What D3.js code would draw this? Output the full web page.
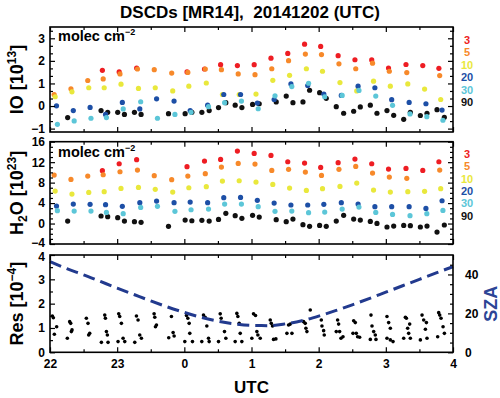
<!DOCTYPE html>
<html>
<head>
<meta charset="utf-8">
<script src="https://cdn.jsdelivr.net/npm/d3@7"></script>
<style>
  body { margin: 0; background: #fff; }
  svg text { font-family: "Liberation Sans", Arial, Helvetica, sans-serif; font-weight: bold; }
</style>
</head>
<body>
<svg id="chart" width="500" height="398"></svg>
<script>
// elevation angles of the MAX-DOAS scan and their colours
const angles = ["3", "5", "10", "20", "30", "90"];
const angleColors = ["#ee1d23", "#f7892a", "#e9e83c", "#1d4fa6", "#5cc6d8", "#111111"];
// time offset (h) of each low angle inside one scan cycle
const angleTimeOffset = [0, 0.012, 0.027, 0.047, 0.06];

// start time of each scan cycle (decimal hours, 24 = 0 UTC next day)
const cycleTimes = [22.05, 22.30, 22.55, 22.78, 23.03, 23.29, 23.54, 23.80, 24.04, 24.30, 24.54, 24.79,
  25.04, 25.29, 25.54, 25.79, 26.03, 26.29, 26.54, 26.79, 27.04, 27.30, 27.55, 27.79];

// IO dSCDs [1e13 molec cm-2]
const io3  = [null, null, null, 1.58, 1.51, 1.68, null, null, 1.51, 1.64, 1.83, 1.79, 1.83, 2.12, 2.33, 2.74, 2.64, 2.23, 2.05, 2.04, 1.68, 1.84, 1.79, 1.67];
const io5  = [0.51, 0.76, 1.13, 1.20, 1.42, 1.64, 1.61, 1.46, 1.49, 1.64, 1.61, 1.42, 1.39, 1.65, 2.01, 2.30, 2.28, 1.87, 1.65, 1.90, 1.54, 1.48, null, 1.35];
const io10 = [0.41, 0.63, 0.81, 0.81, 0.97, 0.78, 0.81, 0.67, 0.88, 1.02, 0.51, 0.51, 0.53, 1.14, 1.36, 1.65, 1.54, 1.04, 0.67, 1.10, 0.88, 0.98, 0.75, 0.29];
const io20 = [0.01, -0.20, -0.06, -0.37, 0.16, -0.13, 0.32, 0.22, -0.20, 0.04, 0.51, 0.51, 0.13, 0.29, 0.98, 0.91, 0.53, 0.47, 0.88, 0.81, 0.28, 0.16, 0.10, -0.18];
const io30 = [-0.81, -0.66, -0.54, -0.51, -0.13, 0.19, -0.54, -0.37, -0.28, -0.03, 0.15, 0.22, -0.12, 0.45, 0.86, 1.01, 0.41, 0.47, 0.69, 0.44, 0.03, -0.35, -0.47, -0.63];

// H2O dSCDs [1e23 molec cm-2]
const h2o3  = [null, null, null, 10.33, 11.69, 12.48, null, null, 11.11, 12.21, 12.54, 14.17, 13.71, 13.32, 12.08, 11.82, 10.98, 11.89, 12.61, 11.69, 10.65, 10.78, 10.39, 12.08];
const h2o5  = [9.48, 8.63, 9.28, 9.54, 10.13, 10.46, 9.35, 8.57, 9.28, 9.74, 11.04, 11.76, 11.63, 10.39, 10.59, 10.06, 9.41, 10.59, 11.17, 9.87, 9.09, 8.83, null, 10.46];
const h2o10 = [6.35, 5.77, 6.09, 6.22, 6.87, 7.07, 6.68, 6.16, 7.00, 7.20, 8.31, 8.37, 8.11, 7.65, 6.94, 6.48, 6.81, 7.26, 7.92, 6.55, 6.16, 6.22, 6.29, 6.81];
const h2o20 = [3.42, 3.81, 3.75, 3.68, 3.36, 4.07, 4.40, 4.07, 4.20, 4.07, 5.05, 5.11, 4.53, 4.01, 3.62, 3.62, 3.75, 4.07, 3.81, 3.29, 3.29, 3.29, 2.96, 4.46];
const h2o30 = [2.51, 2.44, 2.44, 2.18, 1.92, 3.16, 3.36, 2.38, 2.70, 2.83, 3.81, 3.81, 3.29, 2.38, 2.44, 2.12, 2.25, 2.83, 3.22, 2.18, 1.79, 1.53, 1.92, 2.57];

// zenith (90 deg) measurements, before and after the scans
const zenithTimes = [22.263, 22.760, 22.859, 23.008, 23.108, 23.257, 23.356, 23.764, 24.012, 24.112, 24.261, 24.370, 24.509,
  24.618, 24.757, 24.857, 25.016, 25.115, 25.368, 25.517, 25.617, 25.766, 25.865, 26.014, 26.113, 26.262,
  26.372, 26.521, 26.620, 26.769, 26.868, 27.017, 27.117, 27.266, 27.365, 27.514, 27.613, 27.762, 27.871];
const io90 = [-0.51, -0.20, -0.28, -0.28, -0.37, -0.28, -0.37, -0.34, -0.34, -0.28, -0.28, -0.20, -0.07,
  0.15, 0.04, -0.07, 0.07, 0.10, 0.18, 0.44, 0.15, 0.18, 0.70, 0.59, 0.34, -0.03,
  -0.32, -0.23, -0.04, 0.04, -0.32, -0.20, -0.41, -0.59, -0.28, -0.42, -0.32, -0.16, -0.50];
const h2o90 = [0.49, 1.47, 1.34, 1.14, 0.49, 0.36, 0.23, -0.55, 0.68, 0.55, 0.62, 0.49, 0.81,
  1.99, 1.53, 1.01, 1.60, 1.27, 0.75, 0.36, 0.88, -0.23, -0.55, -0.36, -0.55, 0.49,
  1.60, 0.88, 0.68, 0.42, 0.03, -0.68, -0.49, -0.36, -0.42, -0.68, -0.49, -1.66, -0.29];

// fit residuals [1e-4]: [time, value]
const residuals = [
  [22.035,1.49],[22.050,1.42],[22.065,0.74],[22.099,1.05],
  [22.258,0.58],[22.293,1.26],[22.308,1.19],[22.318,0.85],[22.328,0.92],
  [22.541,1.40],[22.566,1.19],[22.576,0.71],[22.591,0.78],
  [22.765,0.41],[22.815,1.53],[22.825,1.40],[22.840,0.85],[22.854,0.71],[22.864,0.41],
  [23.013,0.44],[23.023,1.58],[23.038,1.47],[23.063,1.19],[23.088,0.58],[23.113,0.44],
  [23.262,0.41],[23.287,1.49],[23.311,1.33],[23.336,0.71],[23.361,0.58],
  [23.550,1.58],[23.560,1.44],[23.570,1.05],[23.585,1.12],
  [23.768,0.60],[23.808,1.47],[23.833,0.81],[23.848,0.67],
  [24.007,0.44],[24.032,1.51],[24.052,1.40],[24.072,1.19],[24.081,0.78],[24.121,0.44],
  [24.260,0.44],[24.285,1.53],[24.310,1.44],[24.335,1.08],[24.360,0.58],[24.370,0.44],
  [24.509,0.44],[24.534,1.58],[24.548,1.40],[24.598,0.85],[24.618,0.58],
  [24.757,0.44],[24.782,1.60],[24.797,1.47],[24.817,1.19],[24.832,0.78],[24.856,0.44],
  [25.005,0.58],[25.030,1.58],[25.060,1.51],[25.080,0.85],[25.095,0.71],[25.130,0.58],
  [25.279,1.33],[25.294,1.19],[25.313,1.08],[25.328,0.53],[25.363,0.55],
  [25.527,0.78],[25.552,1.12],[25.577,1.16],[25.602,0.78],
  [25.775,1.26],[25.800,1.19],[25.810,0.99],[25.825,0.85],[25.875,1.74],
  [26.039,1.33],[26.049,1.08],[26.074,0.89],[26.083,0.71],
  [26.262,0.85],[26.282,1.33],[26.297,1.16],[26.312,0.85],[26.332,0.58],[26.362,0.64],
  [26.511,0.78],[26.521,1.30],[26.545,1.22],[26.560,0.78],[26.580,0.64],[26.610,0.62],
  [26.769,0.53],[26.779,1.53],[26.794,1.08],[26.819,0.85],[26.843,0.71],[26.853,0.53],
  [27.017,0.58],[27.017,1.47],[27.042,1.22],[27.067,0.99],[27.067,0.51],[27.107,0.44],
  [27.266,0.58],[27.291,1.44],[27.306,1.40],[27.325,0.99],[27.340,0.78],[27.355,1.16],[27.365,0.58],
  [27.514,0.51],[27.539,1.53],[27.564,1.33],[27.589,0.95],[27.604,1.22],[27.613,0.58],
  [27.772,0.64],[27.787,1.63],[27.802,1.53],[27.822,1.40],[27.852,1.05],[27.872,0.78]
];

// solar zenith angle
const szaTimes = [22.00, 22.25, 22.50, 22.75, 23.00, 23.25, 23.50, 23.75, 24.00, 24.25, 24.50, 24.75,
  25.00, 25.25, 25.50, 25.75, 26.00, 26.25, 26.50, 26.75, 27.00, 27.25, 27.50, 27.75, 28.00];
const szaValues = [46.6, 43.0, 39.8, 36.4, 33.0, 29.7, 26.4, 23.3, 20.5, 18.0, 16.0, 14.6,
  13.8, 13.7, 14.6, 16.2, 18.6, 21.4, 24.4, 27.6, 30.9, 34.2, 37.5, 40.8, 44.0];

const hourTicks = [22, 23, 24, 25, 26, 27, 28];
const halfHourTicks = [22.5, 23.5, 24.5, 25.5, 26.5, 27.5];

// ---------------------------------------------------------------
const svg = d3.select("#chart");
const FONT = '"Liberation Sans", Arial, Helvetica, sans-serif';
const left = 50, right = 453;

const x = d3.scaleLinear().domain([22, 28]).range([left, right]);
const fmt = d3.format("d");

// draw one set of ticks (inward), optionally with labels
function ticks(maker, scale, values, size, transform, withLabels, padding) {
  const gen = maker(scale).tickValues(values).tickSize(-size).tickPadding(padding || 5)
    .tickFormat(withLabels ? (withLabels === true ? fmt : withLabels) : () => "");
  const g = svg.append("g").attr("transform", transform).call(gen);
  g.select(".domain").remove();
  g.attr("font-family", FONT).attr("font-size", 12).attr("font-weight", "bold");
  g.selectAll("line").attr("stroke", "#000").attr("stroke-width", 1.2);
  g.selectAll("text").attr("fill", "#000");
  return g;
}

function panelFrame(top, bottom, y, majors, minors, xLabels) {
  // x ticks top & bottom
  ticks(d3.axisTop, x, hourTicks, 5, `translate(0,${top})`);
  ticks(d3.axisTop, x, halfHourTicks, 3, `translate(0,${top})`);
  ticks(d3.axisBottom, x, hourTicks, 5, `translate(0,${bottom})`, xLabels ? (d => d % 24) : false, 7);
  ticks(d3.axisBottom, x, halfHourTicks, 3, `translate(0,${bottom})`);
  // y ticks left
  const yAxis = ticks(d3.axisLeft, y, majors, 5, `translate(${left},0)`, true, 5);
  ticks(d3.axisLeft, y, minors, 3, `translate(${left},0)`);
  svg.append("rect")
    .attr("x", left).attr("y", top)
    .attr("width", right - left).attr("height", bottom - top)
    .attr("fill", "none").attr("stroke", "#000").attr("stroke-width", 1.6);
  return yAxis;
}

function yTitle(cx, cy, parts, color) {
  const t = svg.append("text")
    .attr("transform", `translate(${cx},${cy}) rotate(-90)`)
    .attr("text-anchor", "middle")
    .attr("font-size", 18)
    .attr("fill", color || "#000");
  parts.forEach(p => {
    const s = t.append("tspan").text(p[0]);
    if (p[1] === "sup") s.attr("font-size", 12).attr("dy", -7);
    else if (p[1] === "sub") s.attr("font-size", 12).attr("dy", 4);
    else if (p[1] === "back-sup") s.attr("dy", 7);
    else if (p[1] === "back-sub") s.attr("dy", -4);
  });
}

function unitsLabel(top) {
  const t = svg.append("text").attr("x", 58).attr("y", top + 14).attr("font-size", 14.5).attr("fill", "#000");
  t.append("tspan").text("molec cm");
  t.append("tspan").text("\u22122").attr("font-size", 9).attr("dy", -6);
}

function legend(top) {
  svg.append("g").selectAll("text")
    .data(angles)
    .join("text")
    .attr("x", 467)
    .attr("y", (d, i) => top + 17 + i * 12.4)
    .attr("text-anchor", "middle")
    .attr("font-size", 11)
    .attr("fill", (d, i) => angleColors[i])
    .text(d => d);
}

function scanDots(y, lowSeries, zenithSeries) {
  const g = svg.append("g");
  g.selectAll(".zen")
    .data(zenithTimes.map((t, i) => [t, zenithSeries[i]]).filter(d => d[1] != null))
    .join("circle")
    .attr("cx", d => x(d[0])).attr("cy", d => y(d[1]))
    .attr("r", 2.6).attr("fill", angleColors[5]);
  lowSeries.forEach((series, k) => {
    g.append("g").selectAll("circle")
      .data(cycleTimes.map((t, i) => [t + angleTimeOffset[k], series[i]]).filter(d => d[1] != null))
      .join("circle")
      .attr("cx", d => x(d[0])).attr("cy", d => y(d[1]))
      .attr("r", 2.6).attr("fill", angleColors[k]);
  });
}

// title (two spaces after the comma)
svg.append("text")
  .attr("x", 250).attr("y", 18)
  .attr("text-anchor", "middle")
  .attr("font-size", 17)
  .text("DSCDs [MR14], \u00a020141202 (UTC)");

// ---- panel 1: IO
const p1 = { top: 27, bottom: 132 };
const yIO = d3.scaleLinear().domain([-1.15, 3.5]).range([p1.bottom, p1.top]);
const ioMinors = d3.range(-3, 11).filter(i => i % 3 !== 0).map(i => i / 3);
scanDots(yIO, [io3, io5, io10, io20, io30], io90);
panelFrame(p1.top, p1.bottom, yIO, [-1, 0, 1, 2, 3], ioMinors, false);
ticks(d3.axisRight, yIO, [-1, 0, 1, 2, 3], 5, `translate(${right},0)`);
ticks(d3.axisRight, yIO, ioMinors, 3, `translate(${right},0)`);
unitsLabel(p1.top);
legend(p1.top);
yTitle(23, (p1.top + p1.bottom) / 2, [["IO [10"], ["13", "sup"], ["]", "back-sup"]]);

// ---- panel 2: H2O
const p2 = { top: 141.7, bottom: 244 };
const yH2O = d3.scaleLinear().domain([-4, 16]).range([p2.bottom, p2.top]);
const h2oMinors = d3.range(-4, 17).filter(v => v % 4 !== 0);
scanDots(yH2O, [h2o3, h2o5, h2o10, h2o20, h2o30], h2o90);
const h2oAxis = panelFrame(p2.top, p2.bottom, yH2O, [-4, 0, 4, 8, 12, 16], h2oMinors, false);
// nudge the bottom label up a touch so it clears the "4" of the panel below
h2oAxis.selectAll("text").filter(d => d === -4).attr("dy", "0.2em");
ticks(d3.axisRight, yH2O, [-4, 0, 4, 8, 12, 16], 5, `translate(${right},0)`);
ticks(d3.axisRight, yH2O, h2oMinors, 3, `translate(${right},0)`);
unitsLabel(p2.top + 1);
legend(p2.top - 1);
yTitle(23, (p2.top + p2.bottom) / 2,
  [["H"], ["2", "sub"], ["O [10", "back-sub"], ["23", "sup"], ["]", "back-sup"]]);

// ---- panel 3: residual + SZA
const p3 = { top: 255, bottom: 352.3 };
const yRes = d3.scaleLinear().domain([0, 4]).range([p3.bottom, p3.top]);
const ySza = d3.scaleLinear().domain([0, 50]).range([p3.bottom, p3.top]);

svg.append("g").selectAll("circle")
  .data(residuals)
  .join("circle")
  .attr("cx", d => x(d[0])).attr("cy", d => yRes(d[1]))
  .attr("r", 1.8).attr("fill", "#000");

svg.append("path")
  .datum(szaTimes.map((t, i) => [t, szaValues[i]]))
  .attr("fill", "none")
  .attr("stroke", "#223a8e")
  .attr("stroke-width", 3)
  .attr("stroke-dasharray", "12,6")
  .attr("d", d3.line().x(d => x(d[0])).y(d => ySza(d[1])).curve(d3.curveMonotoneX));

const resAxis = panelFrame(p3.top, p3.bottom, yRes, [0, 1, 2, 3, 4], [0.5, 1.5, 2.5, 3.5], true);
resAxis.selectAll("text").filter(d => d === 4).attr("dy", "0.45em");
ticks(d3.axisRight, ySza, [0, 20, 40], 5, `translate(${right},0)`, true, 12);
ticks(d3.axisRight, ySza, [5, 10, 15, 25, 30, 35, 45], 3, `translate(${right},0)`);
yTitle(23, (p3.top + p3.bottom) / 2, [["Res [10"], ["\u22124", "sup"], ["]", "back-sup"]]);
yTitle(497, (p3.top + p3.bottom) / 2, [["SZA"]], "#2c4596");

// x axis title
svg.append("text")
  .attr("x", (left + right) / 2).attr("y", 393)
  .attr("text-anchor", "middle")
  .attr("font-size", 17)
  .text("UTC");
</script>
</body>
</html>
